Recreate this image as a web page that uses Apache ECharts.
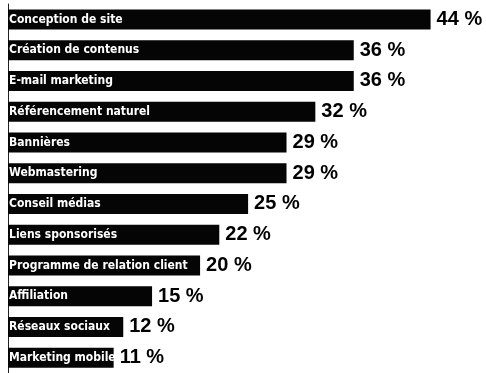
<!DOCTYPE html>
<html>
<head>
<meta charset="utf-8">
<style>
  html, body { margin: 0; padding: 0; background: #fff; }
  #chart { width: 486px; height: 373px; }
</style>
<script src="https://cdn.jsdelivr.net/npm/echarts@6/dist/echarts.min.js"></script>
</head>
<body>
<div id="chart"></div>
<script>
// Services, listed top to bottom
const categories = [
  'Conception de site',
  'Création de contenus',
  'E-mail marketing',
  'Référencement naturel',
  'Bannières',
  'Webmastering',
  'Conseil médias',
  'Liens sponsorisés',
  'Programme de relation client',
  'Affiliation',
  'Réseaux sociaux',
  'Marketing mobile'
];
// Share of respondents, in percent
const values = [44, 36, 36, 32, 29, 29, 25, 22, 20, 15, 12, 11];

const chart = echarts.init(document.getElementById('chart'), null, { renderer: 'canvas' });

chart.setOption({
  animation: false,
  backgroundColor: '#ffffff',
  grid: { left: 8, top: 4, width: 461, height: 373, containLabel: false },
  xAxis: {
    type: 'value',
    min: 0,
    max: 48,
    show: false
  },
  yAxis: {
    type: 'category',
    data: categories,
    inverse: true,
    axisLine: { show: true, lineStyle: { color: '#222', width: 1 } },
    axisTick: { show: false },
    axisLabel: { show: false },
    splitLine: { show: false }
  },
  series: [
    {
      // black bars with the service name written inside
      type: 'bar',
      data: values,
      barWidth: 20,
      itemStyle: { color: '#050505' },
      label: {
        show: true,
        position: 'insideLeft',
        distance: 1,
        formatter: '{b}',
        overflow: 'none',
        color: '#ffffff',
        fontFamily: '"DejaVu Sans Condensed", "Roboto Condensed", sans-serif',
        fontWeight: 'bold',
        fontSize: 12
      },
      z: 3
    },
    {
      // transparent overlay carrying the percentage to the right of each bar
      type: 'bar',
      data: values,
      barWidth: 20,
      barGap: '-100%',
      itemStyle: { color: 'rgba(0,0,0,0)' },
      label: {
        show: true,
        position: 'right',
        distance: 6,
        formatter: '{c} %',
        color: '#000000',
        fontFamily: '"Liberation Sans", Arial, sans-serif',
        fontWeight: 'bold',
        fontSize: 20
      },
      silent: true,
      z: 4
    }
  ]
});
</script>
</body>
</html>
